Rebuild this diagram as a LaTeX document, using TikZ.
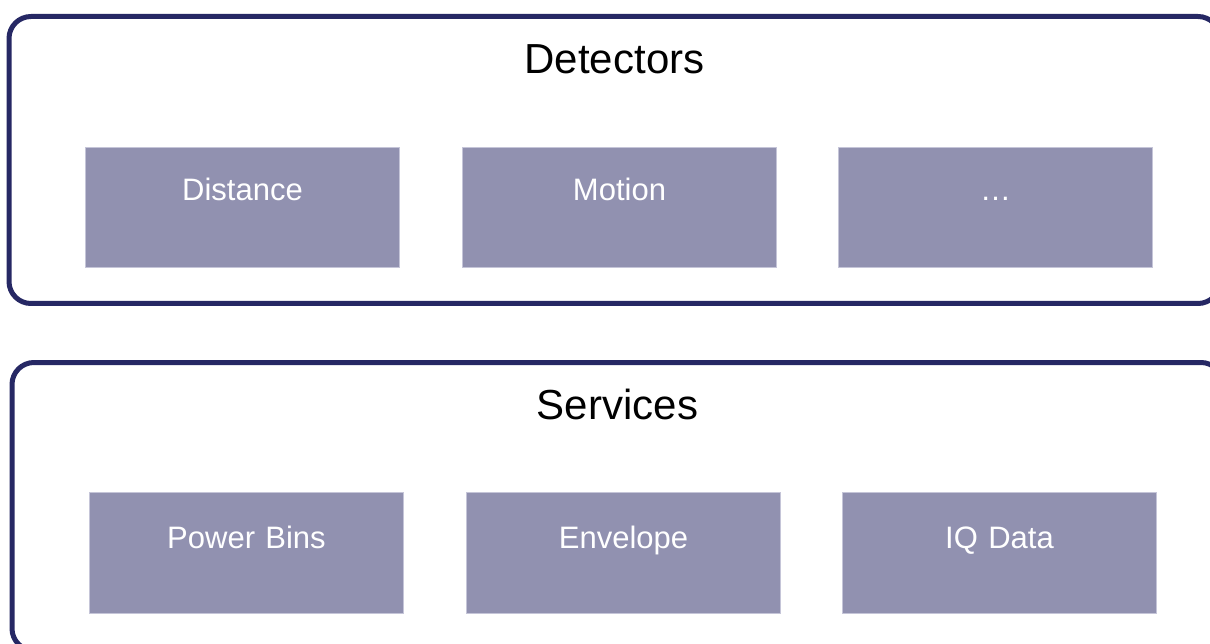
\documentclass[tikz,border=0pt]{standalone}
\usepackage{fontspec}
\setmainfont{Liberation Sans}
\definecolor{navy}{HTML}{262864}
\definecolor{boxfill}{HTML}{9191B0}
\definecolor{boxline}{HTML}{C5C5D8}
\tikzset{
  container/.style={draw=navy, line width=5pt, rounded corners=22pt, inner sep=0pt,
    minimum width=1211pt, text width=1211pt, align=center, anchor=north,
    font=\fontsize{42}{50}\selectfont, text=black},
  item/.style={draw=boxline, line width=1pt, fill=boxfill, inner sep=0pt,
    text width=314pt, align=center, anchor=north west,
    font=\fontsize{31}{37}\selectfont, text=white},
}
\begin{document}
\begin{tikzpicture}[x=1pt,y=1pt]
\useasboundingbox (0,0) rectangle (1210,-644);
\clip (0,0) rectangle (1210,-644);
% containers
\node[container, text height=57pt, text depth=230pt] (detectors) at (614.5,-14) {Detectors};
\node[container, text height=57pt, text depth=231pt] (services) at (617.5,-360) {Services};
% detector items
\node[item, text height=53.5pt, text depth=66.5pt] (distance) at (85,-147) {Distance};
\node[item, text height=53.5pt, text depth=66.5pt] (motion) at (462,-147) {Motion};
\node[item, text height=53.5pt, text depth=66.5pt] (more) at (838,-147) {…};
% service items
\node[item, text height=56pt, text depth=65pt] (powerbins) at (89,-492) {Power Bins};
\node[item, text height=56pt, text depth=65pt] (envelope) at (466,-492) {Envelope};
\node[item, text height=56pt, text depth=65pt] (iqdata) at (842,-492) {IQ Data};
\end{tikzpicture}
\end{document}
